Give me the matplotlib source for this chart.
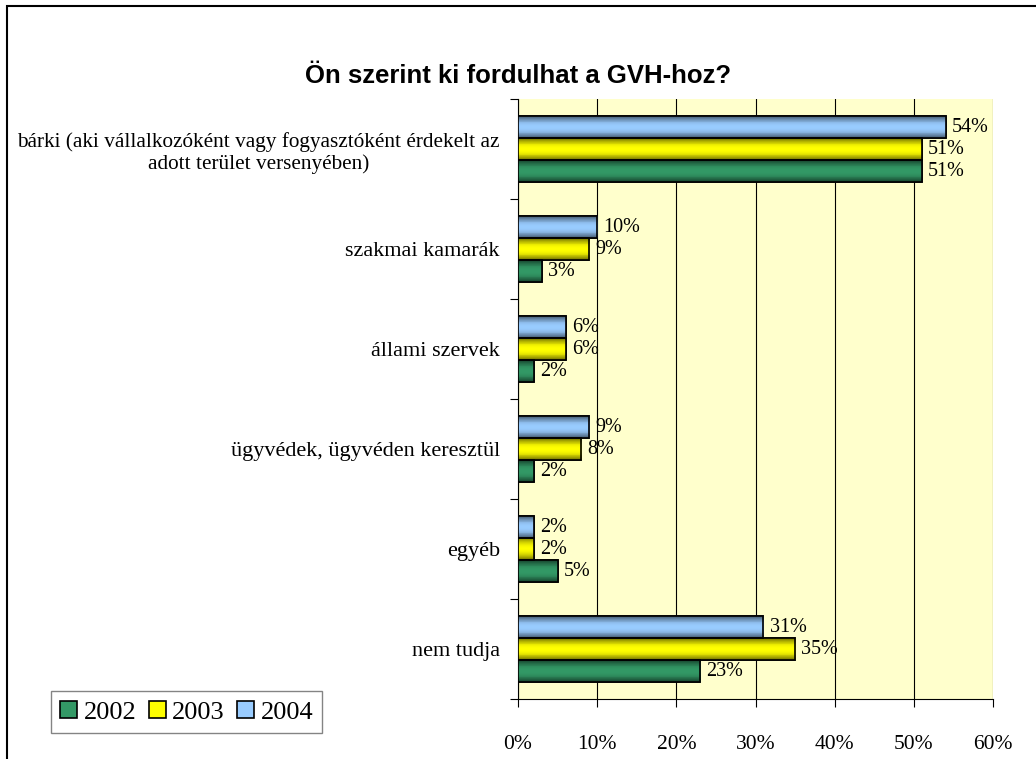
import numpy as np
import matplotlib
matplotlib.use("Agg")
import matplotlib.pyplot as plt
from matplotlib.patches import Patch, Rectangle
from matplotlib.colors import to_rgb

plt.rcParams['font.family'] = ['Liberation Serif', 'DejaVu Serif']

categories = ['bárki (aki vállalkozóként vagy fogyasztóként érdekelt az\nadott terület versenyében)',
              'szakmai kamarák',
              'állami szervek',
              'ügyvédek, ügyvéden keresztül',
              'egyéb',
              'nem tudja']
years = ['2002', '2003', '2004']
v2002 = [51, 3, 2, 2, 5, 23]
v2003 = [51, 9, 6, 8, 2, 35]
v2004 = [54, 10, 6, 9, 2, 31]
colors = ['#339966', '#ffff00', '#99ccff']
xticks = [0, 10, 20, 30, 40, 50, 60]


def gradient(color, n=24):
    # dark at the edges, light in the middle, like the old Excel bar fill
    c = np.array(to_rgb(color))
    t = np.abs(np.linspace(-1, 1, n))[:, None]
    dark = c * 0.45
    g = c * (1 - t**2) + dark * t**2
    return g[:, None, :]


fig = plt.figure(figsize=(10.36, 7.59), dpi=100)
ax = fig.add_axes([518 / 1036, 1 - 699 / 759, (993 - 518) / 1036, 600 / 759])
ax.set_facecolor('#ffffcc')

h = 0.22
y = np.arange(len(categories))
series = [v2002, v2003, v2004]
offsets = [h, 0, -h]
for vals, col, off, yr in zip(series, colors, offsets, years):
    bars = ax.barh(y + off, vals, height=h, color=col, edgecolor='black',
                   linewidth=1.2, zorder=3, label=yr)
    for b, v in zip(bars, vals):
        x0, y0 = b.get_x(), b.get_y()
        im = ax.imshow(gradient(col), extent=[x0, x0 + b.get_width(), y0, y0 + b.get_height()],
                       aspect='auto', interpolation='nearest', zorder=3.5)
        im.set_clip_path(b)
        edge = Rectangle((x0, y0), b.get_width(), b.get_height(), fill=False,
                         edgecolor='black', linewidth=1.2, zorder=4)
        ax.add_patch(edge)
        ax.text(v + 0.8, b.get_y() + b.get_height() / 2, f'{v}%', va='center',
                ha='left', fontsize=14.5, zorder=5)

ax.set_xlim(0, 60)
ax.set_ylim(len(categories) - 0.5, -0.5)
ax.set_xticks(xticks)
ax.set_xticklabels([f'{t}%' for t in xticks], fontsize=15.5)
ax.xaxis.grid(True, color='black', linewidth=0.8, zorder=1)
ax.tick_params(axis='x', direction='out', length=6, pad=20, width=0.8)

ax.set_yticks(y)
ax.set_yticklabels(categories, fontsize=16, multialignment='center')
ax.get_yticklabels()[0].set_fontsize(15.3)
ax.set_yticks(np.arange(len(categories) + 1) - 0.5, minor=True)
ax.tick_params(axis='y', which='major', length=0, pad=13)
ax.tick_params(axis='y', which='minor', length=6, width=0.8, direction='out')

ax.spines['top'].set_visible(False)
ax.spines['right'].set_visible(False)
for s in ['left', 'bottom']:
    ax.spines[s].set_linewidth(0.8)

fig.text(0.5, 1 - 76 / 759, 'Ön szerint ki fordulhat a GVH-hoz?', ha='center', va='center',
         fontsize=18.5, fontweight='bold', family='Liberation Sans')

handles = [Patch(facecolor=c, edgecolor='black', linewidth=1.2) for c in colors]
fig.legend(handles, years, loc='lower left', bbox_to_anchor=(51 / 1036, 1 - 733 / 759),
           ncol=3, fontsize=19, frameon=True, fancybox=False, edgecolor='#666666',
           handlelength=0.65, handleheight=0.65, handletextpad=0.25, columnspacing=0.45,
           borderpad=0.35, borderaxespad=0)

fig.patches.append(Rectangle((7 / 1036, -0.1), 1.2, 1.1 - 6 / 759, transform=fig.transFigure,
                             fill=False, edgecolor='black', linewidth=1.5))

fig.savefig('out.png', dpi=100)
